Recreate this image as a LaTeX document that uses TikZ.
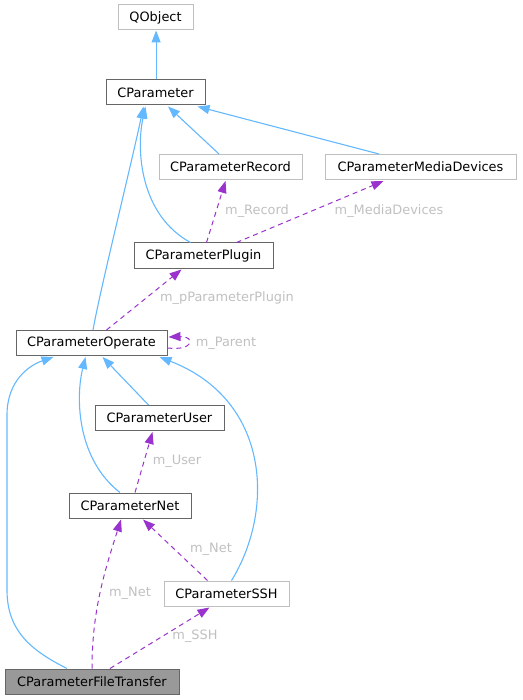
\documentclass[tikz,border=0pt]{standalone}
\usepackage{fontspec}
\setmainfont{DejaVu Sans}
\usetikzlibrary{arrows.meta}
\definecolor{darkbd}{HTML}{666666}
\definecolor{lightbd}{HTML}{BFBFBF}
\definecolor{inhblue}{HTML}{63B8FF}
\definecolor{usepurple}{HTML}{9A32CD}
\definecolor{lblgrey}{HTML}{C0C0C0}
\definecolor{ftfill}{HTML}{999999}
\tikzset{
  cls/.style={draw=darkbd, line width=1pt, inner sep=0pt, minimum height=25pt, font=\fontsize{12.9}{15}\selectfont, text=black},
  clslight/.style={cls, draw=lightbd},
  inh/.style={draw=inhblue, line width=1.1pt, -{Triangle[length=12pt,width=9pt]}},
  usedash/.style={draw=usepurple, line width=1pt, dash pattern=on 5pt off 4pt, -{Triangle[length=12pt,width=9pt]}},
  lbl/.style={text=lblgrey, inner sep=0pt, font=\fontsize{12.9}{15}\selectfont}
}
\begin{document}
\begin{tikzpicture}[x=1pt,y=-1pt]
\useasboundingbox (0,0) rectangle (522,700);
\node[clslight, minimum width=75pt] (qobject) at (155.5,17.5) {QObject};
\node[cls, minimum width=99pt] (cparam) at (155.5,92.5) {CParameter};
\node[clslight, minimum width=143pt] (record) at (230.5,167) {CParameterRecord};
\node[clslight, minimum width=191pt] (media) at (420.5,167) {CParameterMediaDevices};
\node[cls, minimum width=139pt] (plugin) at (203.5,255.5) {CParameterPlugin};
\node[cls, minimum width=151pt] (operate) at (91.5,343) {CParameterOperate};
\node[cls, minimum width=129pt] (user) at (159.5,418) {CParameterUser};
\node[cls, minimum width=122pt] (net) at (130,505.5) {CParameterNet};
\node[clslight, minimum width=125pt] (ssh) at (226.5,593.5) {CParameterSSH};
\node[cls, fill=ftfill, minimum width=174pt] (ft) at (92,681.5) {CParameterFileTransfer};

% inheritance
\draw[inh] ([xshift=0.6pt]cparam.north) -- ([xshift=0.6pt]qobject.south);
\draw[inh] ([xshift=-11.5pt]record.north) -- ([xshift=12.5pt,yshift=-1pt]cparam.south);
\draw[inh] ([xshift=-41.5pt]media.north) -- ([xshift=42pt,yshift=-1pt]cparam.south);
\draw[inh] ([xshift=-13pt]plugin.north) .. controls (140,215) and (136,150) .. ([xshift=-10pt,yshift=-1pt]cparam.south);
\draw[inh] ([xshift=1.5pt]operate.north) .. controls (100,290) and (130,170) .. ([xshift=-12pt,yshift=-1pt]cparam.south);
\draw[inh] ([xshift=-11pt]user.north) -- ([xshift=11pt,yshift=-1pt]operate.south);
\draw[inh] ([xshift=-10pt]net.north) .. controls (78,460) and (75,400) .. ([xshift=-6pt,yshift=-1pt]operate.south);
\draw[inh] ([xshift=5pt]ssh.north) .. controls (275,510) and (270,400) .. ([xshift=68pt,yshift=-1pt]operate.south);
\draw[inh] ([xshift=-25pt]ft.north) .. controls (30,650) and (7,630) .. (7,590) -- (7,415) .. controls (7,380) and (30,365) .. ([xshift=-38pt,yshift=-1pt]operate.south);

% usage
\draw[usedash] ([xshift=3pt]plugin.north) -- ([xshift=-5pt,yshift=-1pt]record.south);
\node[lbl] (lrecord) at (257,211) {m\_Record};
\draw[usedash] ([xshift=33pt]plugin.north) -- ([xshift=-37pt,yshift=-1pt]media.south);
\node[lbl] (lmedia) at (389,211) {m\_MediaDevices};
\draw[usedash] ([xshift=15pt]operate.north) -- ([xshift=-22pt,yshift=-1pt]plugin.south);
\node[lbl] (lplugin) at (227,298) {m\_pParameterPlugin};
\draw[usedash] ([yshift=-5pt]operate.east) .. controls (195,351) and (195,336) .. ([yshift=6pt,xshift=1pt]operate.east);
\node[lbl] (lparent) at (226,343) {m\_Parent};
\draw[usedash] ([xshift=5pt]net.north) -- ([xshift=-7pt,yshift=-1pt]user.south);
\node[lbl] (luser) at (177,461) {m\_User};
\draw[usedash] ([xshift=-19pt]ssh.north) -- ([xshift=13pt,yshift=-1pt]net.south);
\node[lbl] (lnet1) at (211,549) {m\_Net};
\draw[usedash] (ft.north) .. controls (92,610) and (105,570) .. ([xshift=-9pt,yshift=-1pt]net.south);
\node[lbl] (lnet2) at (130,593) {m\_Net};
\draw[usedash] ([xshift=18pt]ft.north) -- ([xshift=-17pt,yshift=-1pt]ssh.south);
\node[lbl] (lssh) at (195,636) {m\_SSH};
\end{tikzpicture}
\end{document}
